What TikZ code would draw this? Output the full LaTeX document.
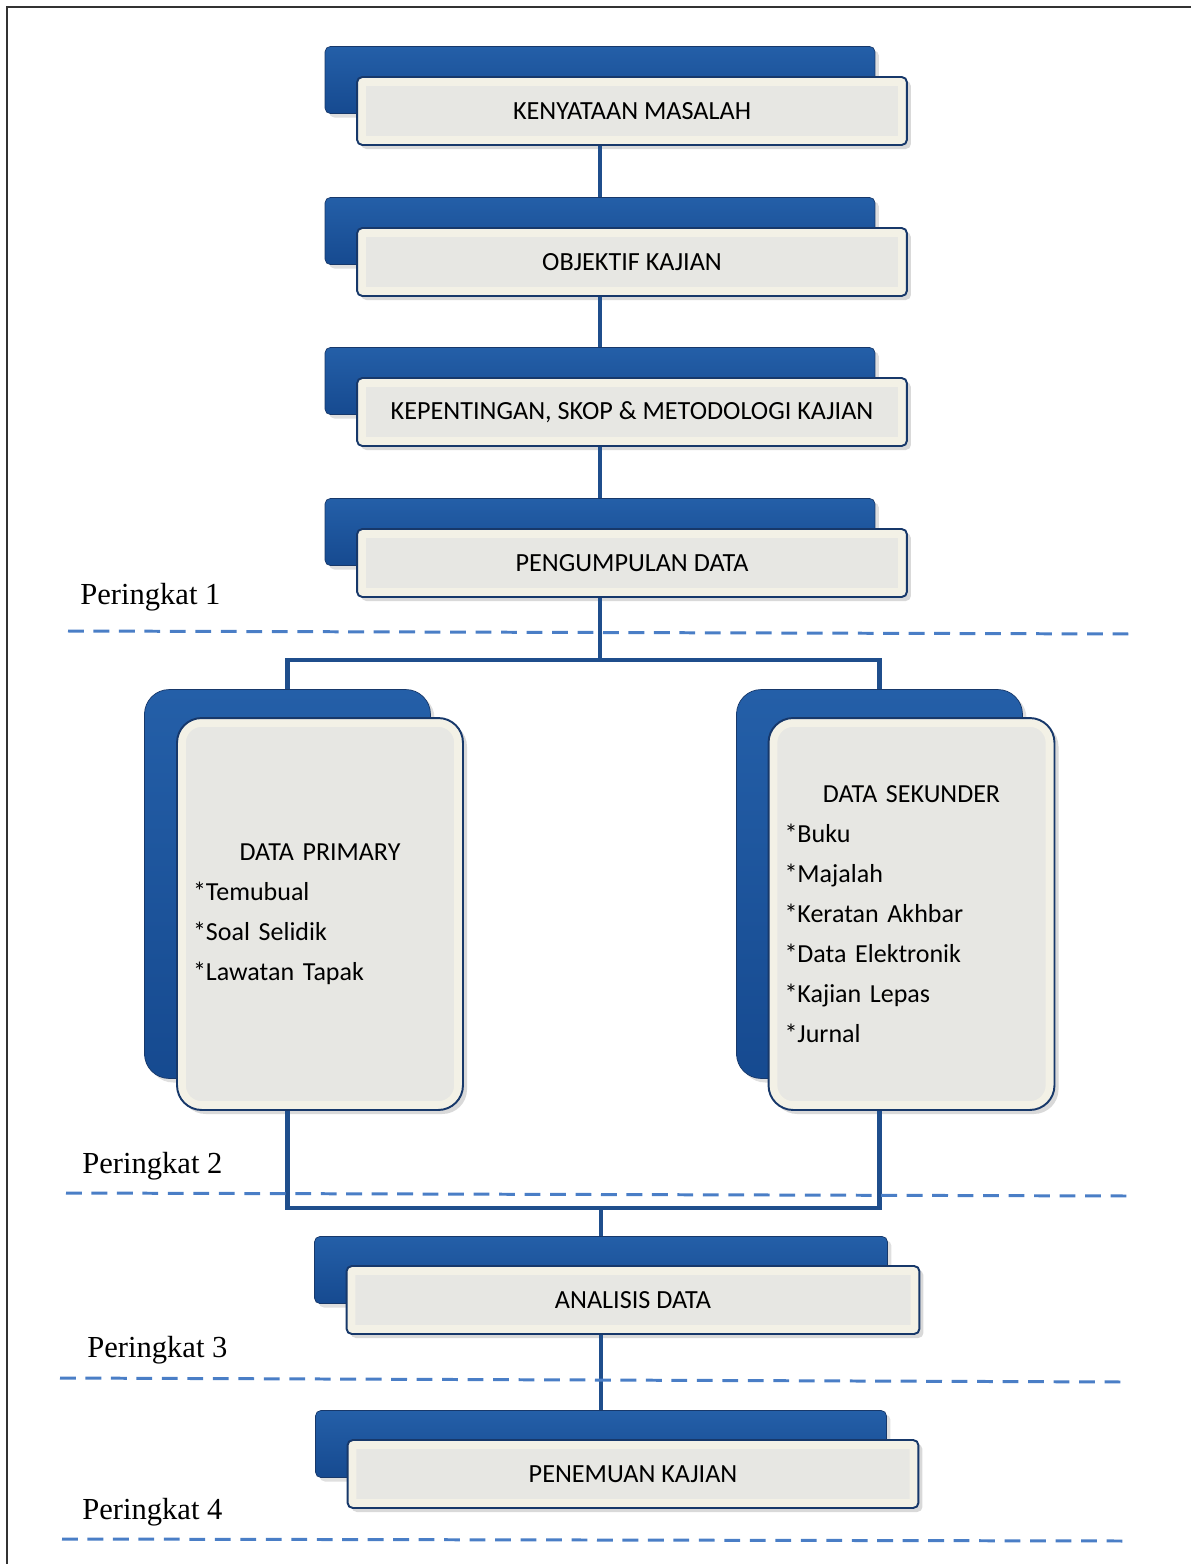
\documentclass[tikz,border=0pt]{standalone}
\usepackage{fontspec}
\setmainfont{Liberation Serif}
\newfontfamily\boxfont{Carlito}
\usetikzlibrary{calc}
\usetikzlibrary{shadows}
\definecolor{barblue}{HTML}{164A90}
\definecolor{barlight}{HTML}{245FA8}
\definecolor{navy}{HTML}{17386A}
\definecolor{plate}{HTML}{E7E7E3}
\definecolor{cream}{HTML}{F3F1E6}
\definecolor{linkblue}{HTML}{1F4E8C}
\definecolor{dashblue}{HTML}{4A7EC6}
\tikzset{
  bevel/.style= {path picture={\draw[#1, line width=10pt] (path picture bounding box.south west) rectangle (path picture bounding box.north east);}},
  backbar/.style= {draw=navy, top color=barlight, bottom color=barblue, rounded corners=3pt, minimum width=11cm, minimum height=1.34cm, drop shadow={opacity=0.25}},
  frontbar/.style= {draw=navy, line width=1.1pt, fill=plate, bevel=cream, rounded corners=3pt, minimum width=11cm, minimum height=1.36cm, font=\boxfont\fontsize{14.9}{16}\selectfont, drop shadow={opacity=0.3}},
  backcard/.style= {draw=navy, top color=barlight, bottom color=barblue, rounded corners=14pt, minimum width=5.72cm, minimum height=7.78cm, drop shadow={opacity=0.25}},
  frontcard/.style= {draw=navy, line width=1.1pt, fill=plate, bevel=cream, rounded corners=14pt, text width=5.08cm, inner xsep=0.32cm, minimum height=7.84cm, align=left, font=\boxfont\fontsize{14.8}{22.8}\selectfont, drop shadow={opacity=0.3}},
  link/.style= {linkblue, line width=2.3pt},
  level/.style= {dashblue, line width=1.7pt, dash pattern=on 9pt off 5.5pt},
  levellabel/.style= {anchor=west, inner sep=0, font=\fontsize{17.4}{19}\selectfont},
}

\begin{document}
\begin{tikzpicture}[x=0.02cm, y=-0.02cm]
  \useasboundingbox (0,0) rectangle (1191,1564) ;
  \draw[black!80, line width=1.1pt] (7,1564) -- (7,7) -- (1191,7) ;

  % upper chain
  \node [backbar] (b1) at (600,80) {} ;
  \node [frontbar] (f1) at (632,111) {KENYATAAN MASALAH} ;
  \node [backbar] (b2) at (600,231) {} ;
  \node [frontbar] (f2) at (632,262) {OBJEKTIF KAJIAN} ;
  \node [backbar] (b3) at (600,381) {} ;
  \node [frontbar] (f3) at (632,412) {KEPENTINGAN, SKOP \& METODOLOGI KAJIAN} ;
  \node [backbar] (b4) at (600,532) {} ;
  \node [frontbar] (f4) at (632,563) {PENGUMPULAN DATA} ;

  \draw [link] (b1.center |- f1.south) -- (b2.north) ;
  \draw [link] (b2.center |- f2.south) -- (b3.north) ;
  \draw [link] (b3.center |- f3.south) -- (b4.north) ;

  % data cards
  \node [backcard] (bp) at (287.5,884) {} ;
  \node [frontcard] (fp) at (320,914) {\makebox[5.08cm]{DATA PRIMARY}\\ {*}Temubual\\ {*}Soal Selidik\\ {*}Lawatan Tapak} ;
  \node [backcard] (bs) at (879.5,884) {} ;
  \node [frontcard] (fs) at (911.5,914) {\makebox[5.08cm]{DATA SEKUNDER}\\ {*}Buku\\ {*}Majalah\\ {*}Keratan Akhbar\\ {*}Data Elektronik\\ {*}Kajian Lepas\\ {*}Jurnal} ;

  \coordinate (split) at (600,660) ;
  \coordinate (join) at (601,1208) ;
  \draw [link] (b4.center |- f4.south) -- (split) ;
  \draw [link] (bp.north) |- (split) -| (bs.north) ;
  \draw [link] (bp.center |- fp.south) |- (join) -| (bs.center |- fs.south) ;

  % lower chain
  \node [backbar, minimum width=11.46cm] (ba) at (601,1270) {} ;
  \node [frontbar, minimum width=11.46cm] (fa) at (633,1300) {ANALISIS DATA} ;
  \node [backbar, minimum width=11.42cm] (bn) at (601,1444) {} ;
  \node [frontbar, minimum width=11.42cm] (fn) at (633,1474) {PENEMUAN KAJIAN} ;

  \draw [link] (join) -- (ba.north) ;
  \draw [link] (ba.center |- fa.south) -- (bn.north) ;

  % levels
  \node [levellabel] (l1) at (80,597) {Peringkat 1} ;
  \node [levellabel] (l2) at (82,1166) {Peringkat 2} ;
  \node [levellabel] (l3) at (87,1350) {Peringkat 3} ;
  \node [levellabel] (l4) at (82,1512) {Peringkat 4} ;
  \draw [level] (68,631) -- (1132,634) ;
  \draw [level] (66,1193) -- (1130,1196) ;
  \draw [level] (60,1378) -- (1125,1382) ;
  \draw [level] (62,1539) -- (1128,1541) ;
\end{tikzpicture}
\end{document}
